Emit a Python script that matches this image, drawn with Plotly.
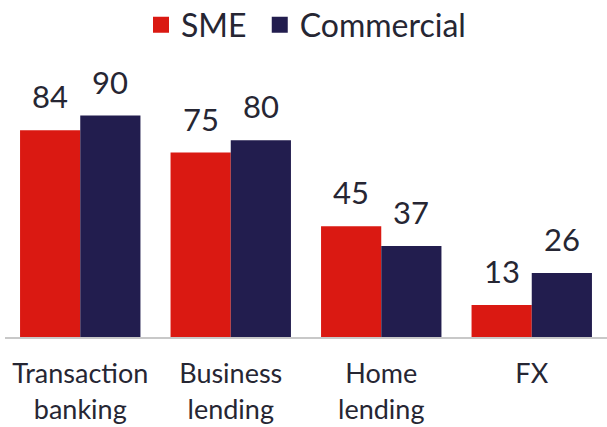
import plotly.graph_objects as go

categories = ["Transaction<br>banking", "Business<br>lending", "Home<br>lending", "FX"]
sme = [84, 75, 45, 13]
commercial = [90, 80, 37, 26]
series_names = ["SME\u00a0", "Commercial"]

RED = "#DA1912"
NAVY = "#221D4E"
TXT = "#262633"
FONT = "Lato"

fig = go.Figure()
fig.add_bar(x=categories, y=sme, marker_color=RED, showlegend=False, marker_line_width=0)
fig.add_bar(x=categories, y=commercial, marker_color=NAVY, showlegend=False, marker_line_width=0)

# legend entries
for name, col in zip(series_names, [RED, NAVY]):
    fig.add_scatter(x=[None], y=[None], mode="markers", name=name,
                    marker=dict(symbol="square", size=20, color=col))

annotations = []
for vals, shift in [(sme, -30), (commercial, 30)]:
    for c, v in zip(categories, vals):
        annotations.append(dict(x=c, y=v, text=str(v), showarrow=False, xshift=shift,
                                yanchor="bottom", yshift=13,
                                font=dict(size=31, color=TXT, family=FONT)))

fig.update_layout(
    width=607, height=427,
    margin=dict(l=5, r=0, t=91, b=90, autoexpand=False),
    paper_bgcolor="white", plot_bgcolor="white",
    barmode="group", bargap=0.2, bargroupgap=0,
    font=dict(family=FONT, color=TXT, size=24),
    showlegend=True,
    legend=dict(orientation="h", x=0.5, xanchor="center", y=1.268, yref="paper",
                yanchor="middle", font=dict(size=32, color=TXT, family=FONT),
                itemsizing="trace", itemwidth=30, traceorder="normal"),
    annotations=annotations,
    xaxis=dict(showline=True, linecolor="#C8C8C8", linewidth=2, ticks="",
               automargin=False, ticklabelstandoff=12,
               tickfont=dict(size=27, color=TXT, family=FONT), showgrid=False),
    yaxis=dict(range=[0, 100], visible=False, showgrid=False, zeroline=False,
               automargin=False),
)

fig.write_html("out.html", config={"displayModeBar": False},
               post_script="document.body.style.margin='0';document.body.style.overflow='hidden';")
